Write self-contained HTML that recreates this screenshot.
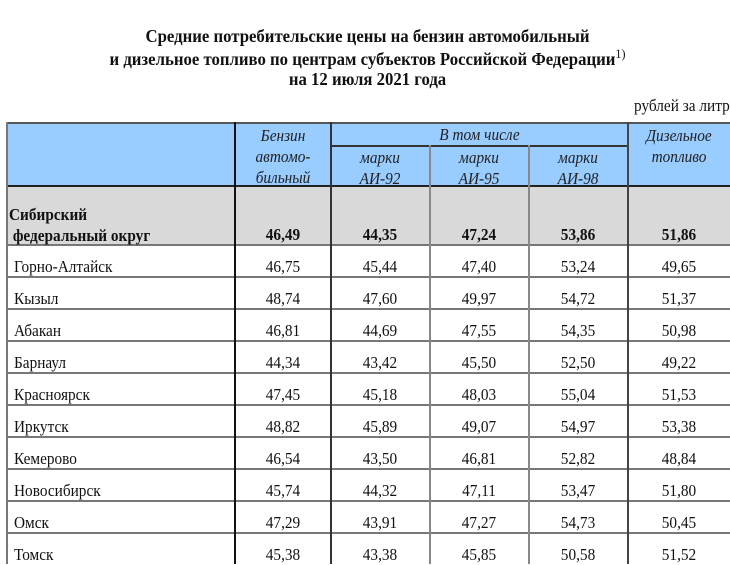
<!DOCTYPE html>
<html><head><meta charset="utf-8"><style>
body{margin:0;width:730px;height:564px;overflow:hidden;background:#fff;font-family:"Liberation Serif",serif;color:#111;position:relative}
.t{position:absolute;left:0;width:735px;text-align:center;font-weight:bold;font-size:18px;line-height:22px;white-space:nowrap;transform:scaleX(.93)}
.a{position:absolute}
.h{position:absolute;background:#99ccff}
.c{position:absolute;text-align:center;font-size:17px;white-space:nowrap;transform:scaleX(.9)}
.n{position:absolute;font-size:17px;white-space:nowrap;transform:scaleX(.9);transform-origin:left}
.i{font-style:italic;color:#222;line-height:21px}
.hl{position:absolute;height:2px;background:#777}
.vl{position:absolute;width:2px;background:#888}
</style></head><body>
<div class="t" style="top:25px">Средние потребительские цены на бензин автомобильный</div>
<div class="t" style="top:48px">и дизельное топливо по центрам субъектов Российской Федерации<span style="font-weight:normal;font-size:13px;position:relative;top:-7px">1)</span></div>
<div class="t" style="top:68px">на 12 июля 2021 года</div>
<div class="n" style="left:634px;top:96px">рублей за литр</div>

<div class="h" style="left:6px;top:123px;width:724px;height:63px"></div>
<div class="a" style="left:6px;top:186px;width:724px;height:59px;background:#d9d9d9"></div>

<div class="hl" style="left:6px;top:122px;width:724px;background:#555"></div>
<div class="hl" style="left:331px;top:145px;width:297px;background:#333;height:1.5px"></div>
<div class="hl" style="left:6px;top:185px;width:724px;background:#222"></div>
<div class="hl" style="left:6px;top:244px;width:724px"></div>
<div class="hl" style="left:6px;top:276px;width:724px"></div>
<div class="hl" style="left:6px;top:308px;width:724px"></div>
<div class="hl" style="left:6px;top:340px;width:724px"></div>
<div class="hl" style="left:6px;top:372px;width:724px"></div>
<div class="hl" style="left:6px;top:404px;width:724px"></div>
<div class="hl" style="left:6px;top:436px;width:724px"></div>
<div class="hl" style="left:6px;top:468px;width:724px"></div>
<div class="hl" style="left:6px;top:500px;width:724px"></div>
<div class="hl" style="left:6px;top:532px;width:724px"></div>

<div class="vl" style="left:6px;top:122px;height:442px;background:#777"></div>
<div class="vl" style="left:234px;top:122px;height:442px;background:#111"></div>
<div class="vl" style="left:330px;top:122px;height:442px;background:#333;width:1.5px"></div>
<div class="vl" style="left:429px;top:145px;height:419px"></div>
<div class="vl" style="left:528px;top:145px;height:419px"></div>
<div class="vl" style="left:627px;top:122px;height:442px;background:#444"></div>

<div class="c i" style="left:236px;width:94px;top:125px">Бензин<br>автомо-<br>бильный</div>
<div class="c i" style="left:331px;width:297px;top:124px">В том числе</div>
<div class="c i" style="left:331px;width:98px;top:147px">марки<br>АИ-92</div>
<div class="c i" style="left:430px;width:98px;top:147px">марки<br>АИ-95</div>
<div class="c i" style="left:529px;width:98px;top:147px">марки<br>АИ-98</div>
<div class="c i" style="left:628px;width:102px;top:125px">Дизельное<br>топливо</div>

<div class="n" style="left:9px;top:204px;font-weight:bold;line-height:21px">Сибирский<br>&nbsp;федеральный округ</div>
<div style="font-weight:bold">
<div class="c" style="left:236px;width:94px;top:225px">46,49</div>
<div class="c" style="left:331px;width:98px;top:225px">44,35</div>
<div class="c" style="left:430px;width:98px;top:225px">47,24</div>
<div class="c" style="left:529px;width:98px;top:225px">53,86</div>
<div class="c" style="left:628px;width:102px;top:225px">51,86</div>
</div>

<div id="rows"></div>
<script>
var d=[["Горно-Алтайск","46,75","45,44","47,40","53,24","49,65"],
["Кызыл","48,74","47,60","49,97","54,72","51,37"],
["Абакан","46,81","44,69","47,55","54,35","50,98"],
["Барнаул","44,34","43,42","45,50","52,50","49,22"],
["Красноярск","47,45","45,18","48,03","55,04","51,53"],
["Иркутск","48,82","45,89","49,07","54,97","53,38"],
["Кемерово","46,54","43,50","46,81","52,82","48,84"],
["Новосибирск","45,74","44,32","47,11","53,47","51,80"],
["Омск","47,29","43,91","47,27","54,73","50,45"],
["Томск","45,38","43,38","45,85","50,58","51,52"]];
var L=[[236,94],[331,98],[430,98],[529,98],[628,102]],h="";
d.forEach(function(r,k){var y=246+32*k+11;
h+='<div class="n" style="left:14px;top:'+y+'px">'+r[0]+'</div>';
for(var j=0;j<5;j++)h+='<div class="c" style="left:'+L[j][0]+'px;width:'+L[j][1]+'px;top:'+y+'px">'+r[j+1]+'</div>';});
document.getElementById("rows").innerHTML=h;
</script>
</body></html>
